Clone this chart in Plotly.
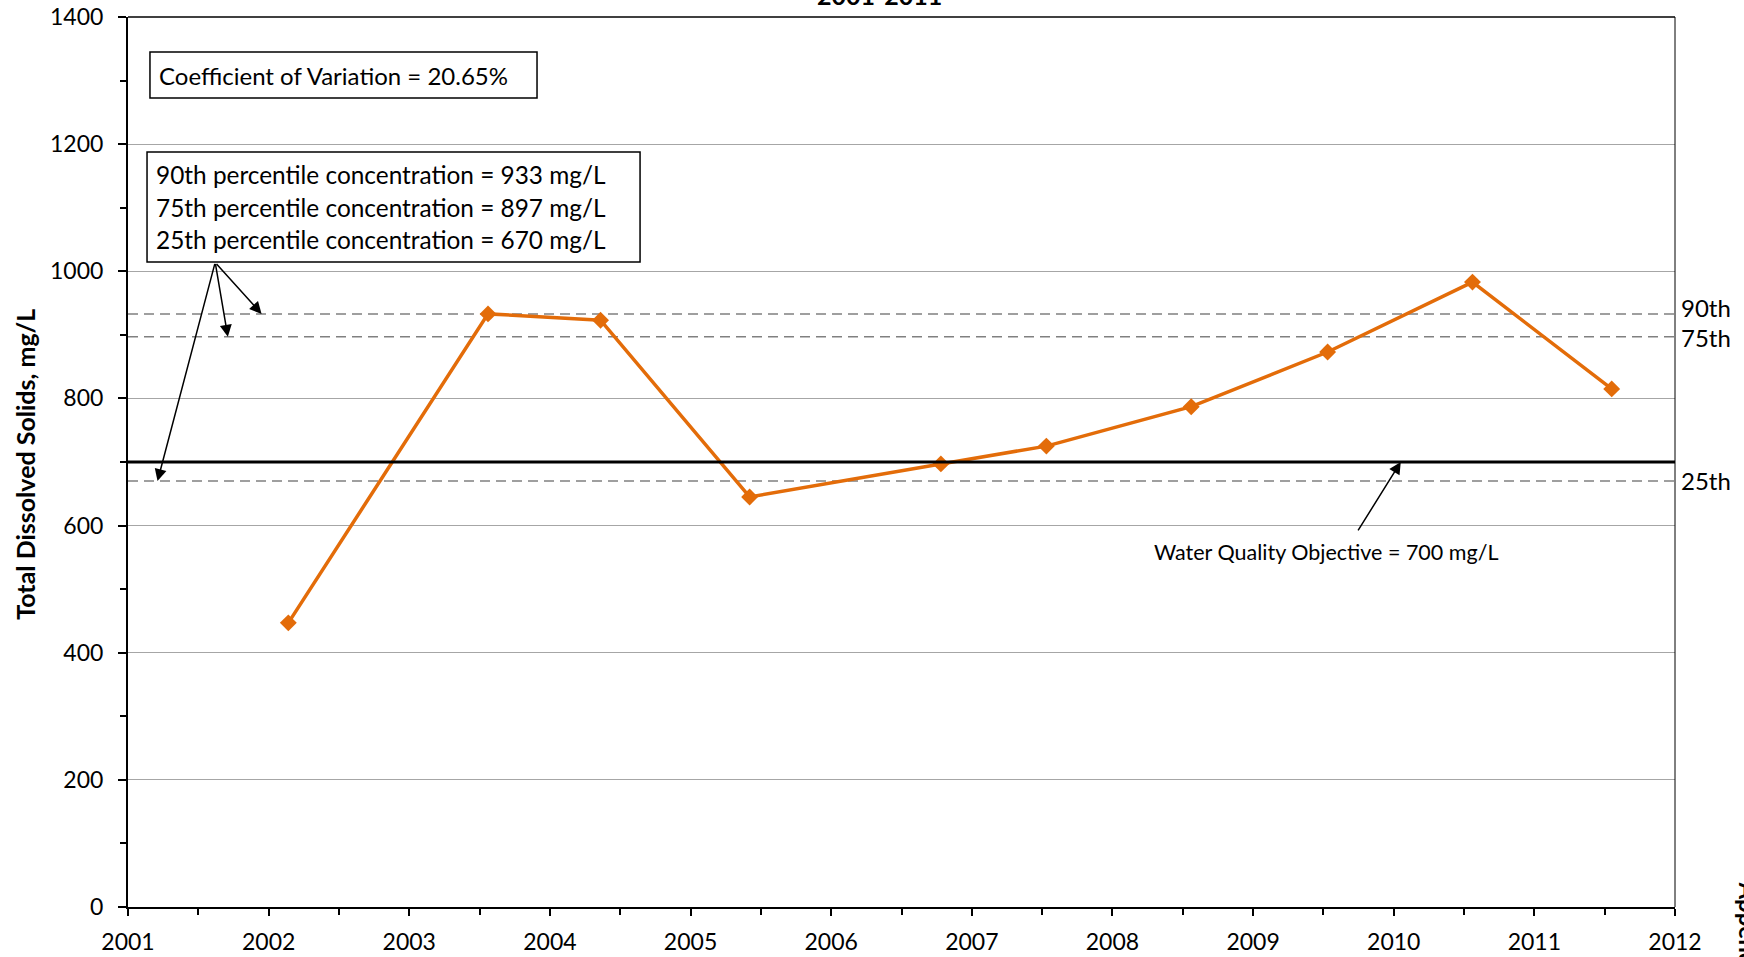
import plotly.graph_objects as go

# sample dates as decimal years, TDS in mg/L
years = [2002.14, 2003.56, 2004.36, 2005.42, 2006.78, 2007.53, 2008.56, 2009.53, 2010.56, 2011.55]
tds = [447, 933, 923, 645, 697, 725, 787, 873, 983, 815]

pct_names = ['90th', '75th', '25th']
pct_values = [933, 897, 670]
wqo = 700
cov = 20.65

FONT = 'Lato'
ORANGE = '#E36C09'

fig = go.Figure()

fig.add_trace(go.Scatter(
    x=years, y=tds, mode='lines+markers',
    line=dict(color=ORANGE, width=3.5),
    marker=dict(symbol='diamond', size=13, color=ORANGE),
    showlegend=False, hoverinfo='x+y',
))

# percentile lines + labels on the right
for name, val in zip(pct_names, pct_values):
    fig.add_shape(type='line', xref='paper', yref='y', x0=0, x1=1, y0=val, y1=val,
                  line=dict(color='#808080', width=1.5, dash='10px,6px'), layer='below')
    shift = {'90th': 6, '75th': -1, '25th': 1}[name]
    fig.add_annotation(x=1, xref='paper', y=val, yref='y', text=name, showarrow=False,
                       xanchor='left', yanchor='middle', xshift=4, yshift=shift,
                       font=dict(family=FONT, size=24, color='black'))

# water quality objective
fig.add_shape(type='line', xref='paper', yref='y', x0=0, x1=1, y0=wqo, y1=wqo,
              line=dict(color='black', width=3))

# plot frame top / right
fig.add_shape(type='line', xref='paper', yref='paper', x0=0, x1=1, y0=1, y1=1,
              line=dict(color='#404040', width=2))
fig.add_shape(type='line', xref='paper', yref='paper', x0=1, x1=1, y0=0, y1=1,
              line=dict(color='black', width=1))

# text boxes
fig.add_shape(type='rect', xref='paper', yref='paper', x0=0.0142, x1=0.2644, y0=0.909, y1=0.9607,
              line=dict(color='black', width=1.5), fillcolor='white')
fig.add_annotation(x=0.0185, y=0.9348, xref='paper', yref='paper', xanchor='left', yanchor='middle',
                   showarrow=False, text=f'Coefficient of Variation = {cov:.2f}%',
                   font=dict(family=FONT, size=24, color='black'))

fig.add_shape(type='rect', xref='paper', yref='paper', x0=0.0123, x1=0.331, y0=0.7247, y1=0.8483,
              line=dict(color='black', width=1.5), fillcolor='white')
for i, (name, val) in enumerate(zip(pct_names, pct_values)):
    fig.add_annotation(x=0.0168, y=0.8225 - i * 0.036, xref='paper', yref='paper', xanchor='left',
                       yanchor='middle', showarrow=False,
                       text=f'{name} percentile concentration = {val} mg/L',
                       font=dict(family=FONT, size=24.4, color='black'))

# arrows from percentile box to lines
for tip_x, val in zip([2001.95, 2001.71, 2001.21], pct_values):
    fig.add_annotation(x=tip_x, y=val, ax=2001.62, ay=1014, xref='x', yref='y', axref='x', ayref='y',
                       text='', showarrow=True, arrowhead=2, arrowsize=1.6, arrowwidth=1.5,
                       arrowcolor='black')

fig.add_annotation(x=2010.05, y=wqo, ax=2009.74, ay=590, xref='x', yref='y', axref='x', ayref='y',
                   text='', showarrow=True, arrowhead=2, arrowsize=1.6, arrowwidth=1.5,
                   arrowcolor='black')
fig.add_annotation(x=2009.52, y=558, xref='x', yref='y', showarrow=False, yanchor='middle',
                   text=f'Water Quality Objective = {wqo} mg/L',
                   font=dict(family=FONT, size=21.5, color='black'))

# y title
fig.add_annotation(x=-0.0666, y=0.498, xref='paper', yref='paper', textangle=-90, showarrow=False,
                   xanchor='center', yanchor='middle',
                   text='<b>Total Dissolved Solids, mg/L</b>',
                   font=dict(family=FONT, size=25, color='black'))

# title (mostly cut off at top of page)
fig.add_annotation(x=0.4855, y=1.0061, xref='paper', yref='paper', yanchor='bottom', showarrow=False,
                   text='<b>2001-2011</b>', font=dict(family=FONT, size=25, color='black'))

# page side text (cut off)
fig.add_annotation(x=1.0585, y=0.031, xref='paper', yref='paper', yanchor='top', textangle=90,
                   showarrow=False, text='<b>Appendix</b>',
                   font=dict(family=FONT, size=24, color='black'))

fig.update_xaxes(
    range=[2001, 2012], tick0=2001, dtick=1, tickformat='d',
    showline=True, linecolor='black', linewidth=2,
    ticks='outside', ticklen=7, tickwidth=2, tickcolor='black',
    minor=dict(dtick=0.5, ticks='outside', ticklen=6, tickwidth=1.5, tickcolor='black', showgrid=False),
    showgrid=False, zeroline=False, ticklabelstandoff=6, automargin=False,
    tickfont=dict(family=FONT, size=23, color='black'),
)
fig.update_yaxes(
    range=[0, 1400], tick0=0, dtick=200,
    showline=True, linecolor='black', linewidth=2,
    ticks='outside', ticklen=8, tickwidth=2, tickcolor='black',
    minor=dict(dtick=100, ticks='outside', ticklen=6, tickwidth=1.5, tickcolor='black', showgrid=False),
    showgrid=True, gridcolor='#a6a6a6', gridwidth=1, zeroline=False, ticklabelstandoff=10,
    automargin=False,
    tickfont=dict(family=FONT, size=23, color='black'),
)

fig.update_layout(
    width=1744, height=957,
    margin=dict(l=128, r=69, t=17, b=50, autoexpand=False),
    plot_bgcolor='white', paper_bgcolor='white',
    showlegend=False,
    font=dict(family=FONT),
)

fig.write_html('out.html', config={'displayModeBar': False},
               post_script="document.body.style.margin='0';")
